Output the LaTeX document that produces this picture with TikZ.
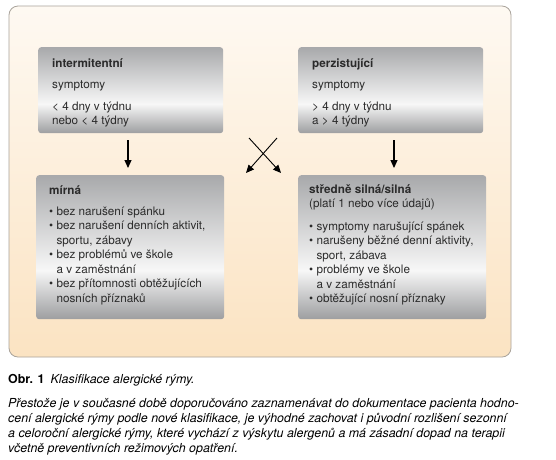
\documentclass[tikz,border=0pt]{standalone}
\usepackage{fontspec}
\setmainfont{TeX Gyre Heros}
\usetikzlibrary{arrows.meta}
\definecolor{txt}{HTML}{2B2B2B}
\definecolor{panelTop}{HTML}{FEF9F2}
\definecolor{panelBot}{HTML}{FBE3C2}
\definecolor{panelLine}{HTML}{A9A39B}
\definecolor{boxTop}{HTML}{A8A9AB}
\definecolor{boxMid}{HTML}{F7F7F7}
\definecolor{boxBot}{HTML}{9D9EA0}
\pgfdeclareverticalshading{boxshade}{100bp}{color(0bp)=(boxBot); color(25bp)=(boxBot); color(42bp)=(boxMid); color(75bp)=(boxTop); color(100bp)=(boxTop)}
\newcommand{\bul}{\textbullet\ }
\newcommand{\ind}{\hphantom{\textbullet\ }}
\begin{document}
\begin{tikzpicture}[x=1pt,y=-1pt,
  panel/.style={draw=panelLine, line width=0.8pt, rounded corners=9pt, top color=panelTop, bottom color=panelBot},
  gbox/.style={shading=boxshade, rounded corners=3pt, anchor=north west, inner sep=0pt},
  btext/.style={anchor=base west, align=left, inner sep=0pt, text=txt, font=\fontsize{11.7}{14}\selectfont},
  arr/.style={-{Triangle[width=7pt,length=8pt]}, line width=1.1pt, black},
  captext/.style={anchor=base west, align=left, inner sep=0pt, text=black, font=\fontsize{12.4}{15}\selectfont}]
\useasboundingbox (0,0) rectangle (556,459);
\fill[white] (0,0) rectangle (556,459);
\draw[panel] (9,6) rectangle (511,357);
% boxes
\node[gbox, minimum width=185pt, minimum height=86pt] (tl) at (38,47) {};
\node[gbox, minimum width=185pt, minimum height=86pt] (tr) at (298,47) {};
\node[gbox, minimum width=188pt, minimum height=144pt] (bl) at (36,175) {};
\node[gbox, minimum width=188pt, minimum height=144pt] (br) at (298,175) {};
% texts (anchor = baseline of last line)
\node[btext] (tlt) at (52,124) {\textbf{intermitentní}\\[7pt]symptomy\\[8pt]< 4 dny v týdnu\\nebo < 4 týdny};
\node[btext] (trt) at (312,124) {\textbf{perzistující}\\[7pt]symptomy\\[8pt]> 4 dny v týdnu\\a > 4 týdny};
\node[btext, font=\fontsize{11.7}{14.5}\selectfont] (blt) at (49,302) {\textbf{mírná}\\[6.5pt]
\bul bez narušení spánku\\
\bul bez narušení denních aktivit,\\
\ind sportu, zábavy\\
\bul bez problémů ve škole\\
\ind a v zaměstnání\\
\bul bez přítomnosti obtěžujících\\
\ind nosních příznaků};
\node[btext, font=\fontsize{11.7}{14.5}\selectfont] (brt) at (309,302.5) {\textbf{středně silná/silná}\\
(platí 1 nebo více údajů)\\[8pt]
\bul symptomy narušující spánek\\
\bul narušeny běžné denní aktivity,\\
\ind sport, zábava\\
\bul problémy ve škole\\
\ind a v zaměstnání\\
\bul obtěžující nosní příznaky};
% arrows
\coordinate (a1s) at (128,140);
\coordinate (a1e) at (128,168);
\coordinate (a2s) at (394,140);
\coordinate (a2e) at (394,168);
\draw[arr] (a1s) -- (a1e);
\draw[arr] (a2s) -- (a2e);
\coordinate (x1s) at (249,138);
\coordinate (x1e) at (281,173);
\coordinate (x2s) at (277,138);
\coordinate (x2e) at (246,173);
\draw[arr, line width=0.9pt] (x1s) -- (x1e);
\draw[arr, line width=0.9pt] (x2s) -- (x2e);
% caption
\node[captext] (cap) at (8,383.5) {\textbf{Obr. 1}\enspace\textit{Klasifikace alergické rýmy.}};
\node[captext, font=\fontsize{12.4}{15}\selectfont\itshape] (par) at (8,452.5) {Přestože je v současné době doporučováno zaznamenávat do dokumentace pacienta hodno-\\
cení alergické rýmy podle nové klasifikace, je výhodné zachovat i původní rozlišení sezonní\\
a celoroční alergické rýmy, které vychází z výskytu alergenů a má zásadní dopad na terapii\\
včetně preventivních režimových opatření.};
\end{tikzpicture}
\end{document}
